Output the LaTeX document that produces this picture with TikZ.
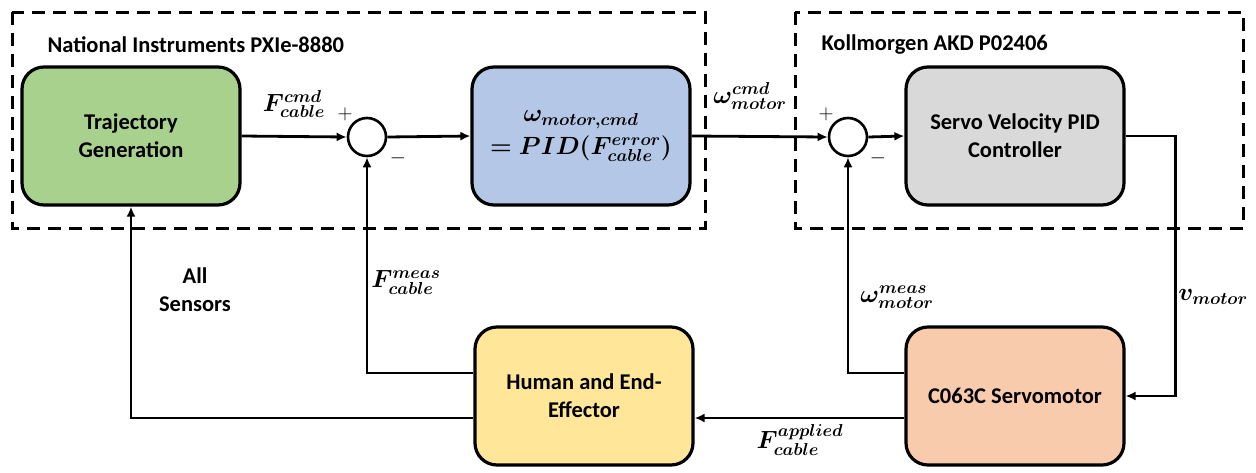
\documentclass[tikz,border=0pt]{standalone}
\usepackage{amsmath,bm}
\usepackage{fontspec}
\setmainfont{Carlito}
\usetikzlibrary{arrows.meta}
\DeclareMathSizes{25}{25}{19}{15}
\definecolor{cgreen}{HTML}{A9D18E}
\definecolor{cblue}{HTML}{B4C7E7}
\definecolor{cgray}{HTML}{D9D9D9}
\definecolor{cyellow}{HTML}{FFE699}
\definecolor{corange}{HTML}{F8CBAD}
\begin{document}
\begin{tikzpicture}[x=1pt,y=-1pt,
  blk/.style={draw, line width=3.2pt, rounded corners=22pt, minimum width=218pt, minimum height=138pt, align=center, font=\bfseries\fontsize{22.5}{28}\selectfont},
  sumc/.style={draw, circle, line width=2.6pt, minimum size=38pt, inner sep=0pt},
  conn/.style={line width=2.8pt},
  arr/.style={conn, -{Latex[length=10pt,width=9pt]}},
  grp/.style={draw, line width=3pt, dash pattern=on 13pt off 8pt},
  grplbl/.style={anchor=west, font=\bfseries\fontsize{22.5}{27}\selectfont},
  lbl/.style={font=\fontsize{25}{28}\selectfont, align=center},
  sgn/.style={font=\fontsize{21}{22}\selectfont}]
\useasboundingbox (0,0) rectangle (1256,472);
% groups
\draw[grp] (12,12) rectangle (705,228);
\draw[grp] (795,12) rectangle (1243,228);
\node[grplbl] (ni) at (44,45) {National Instruments PXIe-8880};
\node[grplbl] (km) at (818,45) {Kollmorgen AKD P02406};
% blocks
\node[blk, fill=cgreen] (traj) at (131,136) {Trajectory\\Generation};
\node[sumc] (s1) at (367,137) {};
\node[blk, fill=cblue, font=\fontsize{25}{28}\selectfont] (pid) at (581,136) {$\bm{\omega_{motor,cmd}}$\\[5pt]$\bm{= PID(F^{error}_{cable})}$};
\node[sumc] (s2) at (848,137) {};
\node[blk, fill=cgray] (servo) at (1015,136) {Servo Velocity PID\\Controller};
\node[blk, fill=cyellow] (human) at (584,396) {Human and End-\\Effector};
\node[blk, fill=corange] (motor) at (1015,396) {C063C Servomotor};
% connectors
\draw[arr] (traj.east) -- (s1.west);
\draw[arr] (s1.east) -- (pid.west);
\draw[arr] (pid.east) -- (s2.west);
\draw[arr] (s2.east) -- (servo.west);
\draw[arr] (servo.east) -- ++(50,0) |- (motor.east);
\draw[arr] ([yshift=23pt]motor.west) -| (s2.south);
\draw[arr] ([yshift=-22pt]motor.west) -- ([yshift=-22pt]human.east);
\draw[arr] ([yshift=23pt]human.west) -| (s1.south);
\draw[arr] ([yshift=-22pt]human.west) -| (traj.south);
% labels
\node[lbl] (lcmd) at (294,104) {$\bm{F^{cmd}_{cable}}$};
\node[sgn] (p1) at (345,114) {$+$};
\node[sgn] (m1) at (398,158) {$-$};
\node[lbl] (lwcmd) at (750,96) {$\bm{\omega^{cmd}_{motor}}$};
\node[sgn] (p2) at (826,114) {$+$};
\node[sgn] (m2) at (878,158) {$-$};
\node[lbl] (lmeas) at (406,282) {$\bm{F^{meas}_{cable}}$};
\node[lbl] (lwmeas) at (897,297) {$\bm{\omega^{meas}_{motor}}$};
\node[lbl] (lv) at (1213,297) {$\bm{v_{motor}}$};
\node[lbl] (lapp) at (800,440) {$\bm{F^{applied}_{cable}}$};
\node[lbl, font=\bfseries\fontsize{22.5}{28}\selectfont] (lall) at (195,290) {All\\Sensors};
\end{tikzpicture}
\end{document}
